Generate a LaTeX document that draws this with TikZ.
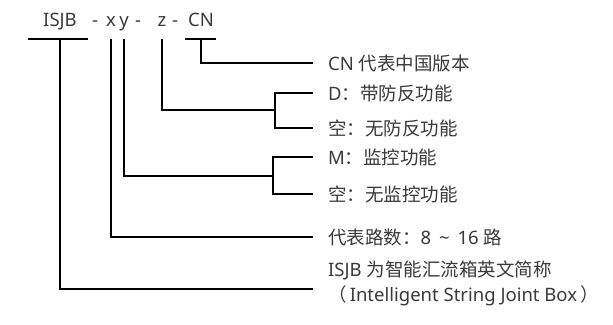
\documentclass[tikz,border=0pt]{standalone}
\usepackage{fontspec}
\setmainfont{Noto Sans}
\newfontfamily\cjk{Noto Sans CJK SC}
\definecolor{txt}{HTML}{3A3A3A}
\begin{document}
\begin{tikzpicture}[x=1pt,y=-1pt,
  conn/.style={line width=2pt, black},
  lbl/.style={anchor=west, inner sep=0pt, font=\fontsize{18.5}{22}\selectfont, text=txt},
  topt/.style={anchor=base, inner sep=0pt, font=\fontsize{18.5}{22}\selectfont, text=txt}]
\useasboundingbox (0,0) rectangle (613,324);
% top code
\node[topt] (isjb) at (60,26) {ISJB};
\node[topt] (d1) at (95,26) {-};
\node[topt] (x) at (111,26) {x};
\node[topt] (y) at (124,26) {y};
\node[topt] (d2) at (138,26) {-};
\node[topt] (z) at (162,26) {z};
\node[topt] (d3) at (175,26) {-};
\node[topt] (cn) at (201,26) {CN};
% labels
\node[lbl] (cnl) at (328,63) {CN {\cjk 代表中国版本}};
\node[lbl] (dl) at (328,93) {D{\cjk ：带防反功能}};
\node[lbl] (d0l) at (328,128) {\cjk 空：无防反功能};
\node[lbl] (ml) at (328,157) {M{\cjk ：监控功能}};
\node[lbl] (m0l) at (328,194) {\cjk 空：无监控功能};
\node[lbl] (lrl) at (328,237) {{\cjk 代表路数：}8 \,\textasciitilde\, 16 {\cjk 路}};
\node[lbl] (il1) at (328,270) {ISJB {\cjk 为智能汇流箱英文简称}};
\node[lbl] (il2) at (328,296) {{\cjk （}\,Intelligent String Joint Box\,{\cjk ）}};
\coordinate (iend) at (313,289);
\coordinate (djoin) at (275,110);
\coordinate (mjoin) at (273,176);
% connectors
\draw[conn] (28,39) -- (88,39);
\draw[conn] (isjb.base |- 0,39) |- (iend);
\draw[conn] (x.base |- 0,39) |- ([xshift=-15pt]lrl.west);
\draw[conn] (y.base |- 0,39) |- (mjoin);
\draw[conn] ([xshift=-15pt]ml.west) -| (mjoin) |- ([xshift=-15pt]m0l.west);
\draw[conn] (z.base |- 0,39) |- (djoin);
\draw[conn] ([xshift=-15pt]dl.west) -| (djoin) |- ([xshift=-15pt]d0l.west);
\draw[conn] (185,39) -- (216,39);
\draw[conn] (cn.base |- 0,39) |- ([xshift=-15pt]cnl.west);
\end{tikzpicture}
\end{document}
